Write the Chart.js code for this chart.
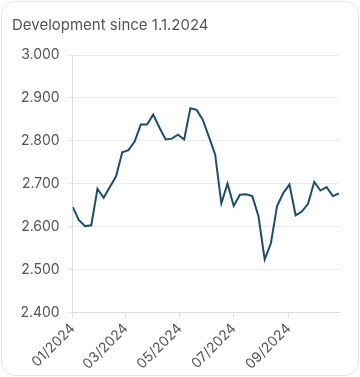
<!DOCTYPE html>
<html>
<head>
<meta charset="utf-8">
<script src="https://cdn.jsdelivr.net/npm/chart.js@4.4.1/dist/chart.umd.min.js"></script>
<style>
  body { margin: 0; background: #fff; }
  .card { position: absolute; left: 1px; top: 1px; width: 356px; height: 373px;
          border: 1px solid #e8e8e8; border-radius: 14px; box-sizing: content-box; }
  #chart { position: absolute; left: 0; top: 0; }
</style>
</head>
<body>
<div class="card"></div>
<canvas id="chart" width="360" height="377"></canvas>
<script>
// weekly values since 1.1.2024
var dates = ["2024-01-01","2024-01-08","2024-01-15","2024-01-22","2024-01-29",
  "2024-02-05","2024-02-12","2024-02-19","2024-02-26",
  "2024-03-04","2024-03-11","2024-03-18","2024-03-25",
  "2024-04-01","2024-04-08","2024-04-15","2024-04-22","2024-04-29",
  "2024-05-06","2024-05-13","2024-05-20","2024-05-27",
  "2024-06-03","2024-06-10","2024-06-17","2024-06-24",
  "2024-07-01","2024-07-08","2024-07-15","2024-07-22","2024-07-29",
  "2024-08-05","2024-08-12","2024-08-19","2024-08-26",
  "2024-09-02","2024-09-09","2024-09-16","2024-09-23","2024-09-30",
  "2024-10-07","2024-10-14","2024-10-21","2024-10-28"];
var values = [2646, 2615, 2601, 2603, 2688, 2667, 2692, 2717, 2773, 2778,
  2798, 2838, 2838, 2861, 2831, 2803, 2805, 2814, 2803, 2876,
  2872, 2849, 2809, 2768, 2654, 2700, 2648, 2674, 2675, 2671,
  2624, 2523, 2561, 2648, 2678, 2698, 2626, 2635, 2653, 2704,
  2684, 2692, 2671, 2677];
var tickDates = ["2024-01-01","2024-03-01","2024-05-01","2024-07-01","2024-09-01"];
var tickLabels = ["01/2024","03/2024","05/2024","07/2024","09/2024"];

function dayOf(s) {
  var p = s.split("-");
  return (Date.UTC(+p[0], +p[1] - 1, +p[2]) - Date.UTC(2024, 0, 1)) / 86400000;
}
function fmt(v) {
  return String(v).replace(/\B(?=(\d{3})+(?!\d))/g, ".");
}

var points = dates.map(function (d, i) { return { x: dayOf(d), y: values[i] }; });
var tickDays = tickDates.map(dayOf);

var FONT = "Inter, 'Noto Sans', sans-serif";

var ctx = document.getElementById('chart').getContext('2d');
var myChart = new Chart(ctx, {
  type: 'line',
  data: {
    datasets: [{
      data: points,
      borderColor: '#1e4d6e',
      borderWidth: 2,
      pointRadius: 0,
      tension: 0,
      fill: false
    }]
  },
  options: {
    responsive: false,
    animation: false,
    layout: { padding: { left: 12, right: 21, top: 13, bottom: 8 } },
    plugins: {
      legend: { display: false },
      tooltip: { enabled: false },
      title: {
        display: true,
        text: 'Development since 1.1.2024',
        align: 'start',
        color: '#555555',
        font: { family: FONT, size: 15, weight: 'normal' },
        padding: { top: 3, bottom: 21 }
      }
    },
    scales: {
      x: {
        type: 'linear',
        min: 0,
        max: dayOf(dates[dates.length - 1]),
        afterBuildTicks: function (scale) {
          scale.ticks = tickDays.map(function (d) { return { value: d }; });
        },
        afterFit: function (scale) { scale.height = 56.7; },
        grid: { drawOnChartArea: false, tickLength: 5, color: '#dcdcdc' },
        border: { color: '#dcdcdc' },
        ticks: {
          autoSkip: false,
          maxRotation: 45,
          minRotation: 45,
          padding: 3,
          color: '#555555',
          font: { family: FONT, size: 14 },
          callback: function (v) {
            var i = tickDays.indexOf(v);
            return i >= 0 ? tickLabels[i] : '';
          }
        }
      },
      y: {
        min: 2400,
        max: 3000,
        afterFit: function (scale) { scale.width = 60.7; },
        grid: { color: '#ebebeb', tickLength: 5 },
        border: { color: '#dcdcdc' },
        ticks: {
          stepSize: 100,
          padding: 8,
          color: '#555555',
          font: { family: FONT, size: 14 },
          callback: function (v) { return fmt(v); }
        }
      }
    }
  }
});
</script>
</body>
</html>
